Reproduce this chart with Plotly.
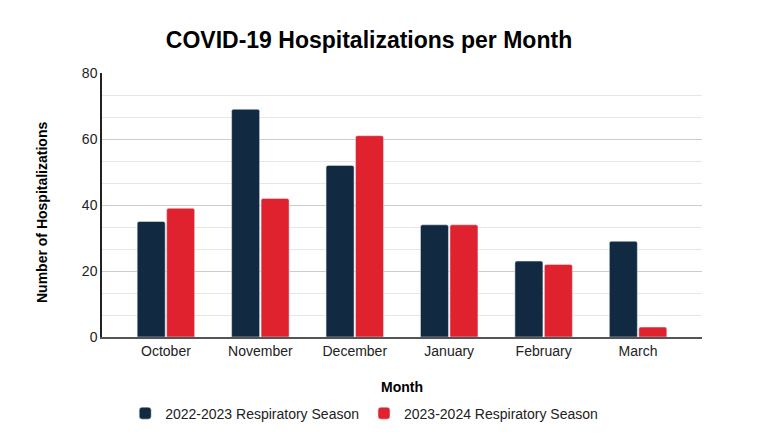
import plotly.graph_objects as go

# Data
months = ["October", "November", "December", "January", "February", "March"]
season_2022_2023 = [35, 69, 52, 34, 23, 29]
season_2023_2024 = [39, 42, 61, 34, 22, 3]
series_names = ["2022-2023 Respiratory Season", "2023-2024 Respiratory Season"]

font_family = "Arial, Liberation Sans, sans-serif"

fig = go.Figure()
fig.add_trace(go.Bar(x=months, y=season_2022_2023, name=series_names[0],
                     marker=dict(color="#112a42", cornerradius=2)))
fig.add_trace(go.Bar(x=months, y=season_2023_2024, name=series_names[1],
                     marker=dict(color="#e0222f", cornerradius=2)))

# page body adds ~8px offset, so margins are shifted to compensate
fig.update_layout(
    width=760, height=442,
    margin=dict(l=94, r=66, t=65, b=113),
    paper_bgcolor="white", plot_bgcolor="white",
    font=dict(family=font_family, size=14, color="#222222"),
    title=dict(text="<b>COVID-19 Hospitalizations per Month</b>",
               x=361 / 760, xanchor="center", y=1 - 32 / 442, yanchor="middle",
               yref="container", font=dict(size=23, color="#000000")),
    barmode="group", bargap=0.376, bargroupgap=0.05,
    legend=dict(orientation="h", x=0.437, xanchor="center", y=-0.29, yanchor="middle",
                font=dict(size=14, color="#222222"), itemwidth=30),
    showlegend=True,
)

# y-axis title as annotation, slightly below plot centre like the reference
fig.add_annotation(text="<b>Number of Hospitalizations</b>", textangle=-90,
                   xref="paper", yref="paper", x=-(94 - 34) / 600, y=(329 - 205) / 264,
                   xanchor="center", yanchor="middle", showarrow=False,
                   font=dict(size=14, color="#000000"))

fig.update_xaxes(
    title=dict(text="<b>Month</b>", font=dict(size=14, color="#000000"), standoff=25),
    range=[-0.677, 5.677],
    showline=True, linecolor="#555555", linewidth=1.5,
    ticks="", showgrid=False,
)
fig.update_yaxes(
    range=[0, 80], dtick=20,
    showline=True, linecolor="#222222", linewidth=1.5,
    gridcolor="#cccccc", gridwidth=1,
    minor=dict(dtick=20 / 3, showgrid=True, gridcolor="#e6e6e6", gridwidth=1),
    zeroline=False, ticks="",
)

fig.write_html("out.html")
